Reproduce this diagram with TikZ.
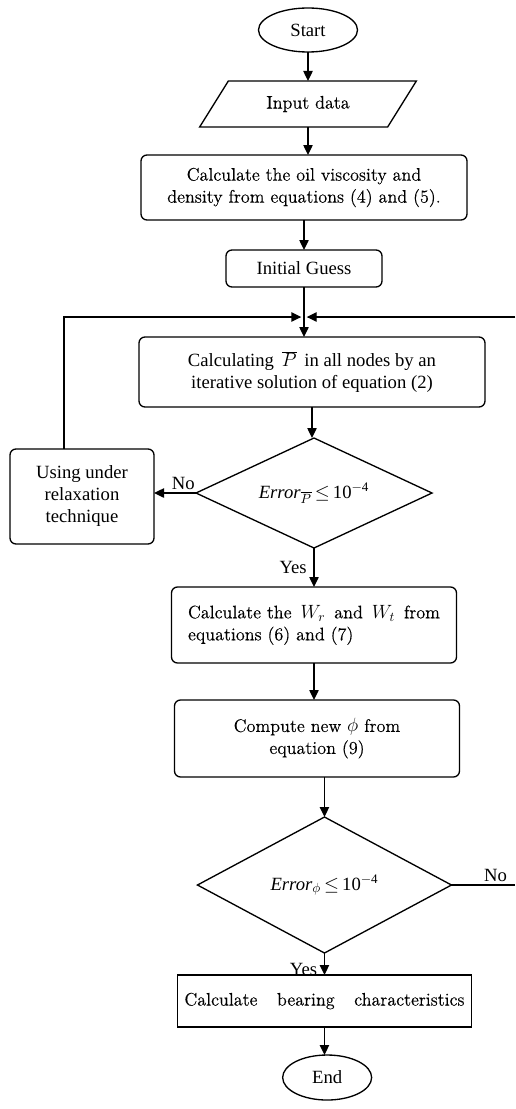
\documentclass[tikz,border=0pt]{standalone}
\usepackage{fontspec}
\setmainfont{Liberation Serif}
\newfontfamily\cambfont[FakeBold=0.3]{Latin Modern Roman}
\usepackage{tikz}
\usetikzlibrary{arrows.meta,positioning,shapes.geometric,calc}

\begin{document}
\begin{tikzpicture}[
  x=0.75pt,y=-0.75pt,
  font=\fontsize{14}{16.5}\selectfont,
  term/.style={draw,line width=1pt,ellipse,inner sep=0pt,outer sep=0pt},
  iobox/.style={draw,line width=1pt,trapezium,trapezium left angle=47,
                trapezium right angle=133,trapezium stretches=true,inner sep=0pt,outer sep=0pt},
  procbox/.style={draw,line width=1pt,rounded corners=4.5pt,align=center,inner sep=0pt,outer sep=0pt},
  plainbox/.style={draw,line width=1pt,align=center,inner sep=0pt,outer sep=0pt},
  test/.style={draw,line width=1pt,diamond,inner sep=0pt,outer sep=0pt},
  camb/.style={font=\cambfont\fontsize{13.6}{16.5}\selectfont},
  flow/.style={-{Triangle[length=7.5pt,width=7pt]},line width=1pt},
  link/.style={line width=1pt},
  lbl/.style={inner sep=2pt},
  yeslbl/.style={inner sep=5pt},
]
\useasboundingbox (0,0) rectangle (516,1109);

% main chain
\node[term,minimum width=74.25pt,minimum height=33pt] (start) at (308,30) {Start};
\node[iobox,camb,minimum width=163.5pt,minimum height=34.5pt,below=21.75pt of start] (input)
  {Input data};
\node[procbox,camb,minimum width=244.5pt,minimum height=48.75pt,below=21pt of input,xshift=-3pt] (visc)
  {Calculate the oil viscosity and\\ density from equations (4) and (5).};
\node[procbox,minimum width=117pt,minimum height=27.75pt,below=22.5pt of visc] (guess)
  {Initial Guess};
\node[procbox,minimum width=259.5pt,minimum height=52.5pt,below=37.5pt of guess,xshift=6pt] (solve)
  {Calculating \,$\overline{P}$\, in all nodes by an\\ iterative solution of equation (2)};
\node[test,aspect=2.15,minimum width=177pt,minimum height=82.5pt,below=23.25pt of solve,xshift=1.5pt] (chkP)
  {\textit{Error}$_{\overline{P}}$\,$\leq$\,10\textsuperscript{$-$4}};
\node[procbox,minimum width=108pt,minimum height=71.25pt,left=31.5pt of chkP,yshift=-2.6pt] (relax)
  {Using under\\ relaxation\\ technique};
\node[procbox,camb,align=left,minimum width=213.75pt,minimum height=57pt,below=29.25pt of chkP] (loads)
  {Calculate the \,$W_r$\, and \,$W_t$\, from\\ equations (6) and (7)};
\node[procbox,camb,minimum width=213.75pt,minimum height=57.75pt,below=27.75pt of loads,xshift=2.25pt] (newphi)
  {Compute new $\phi$ from\\ equation (9)};
\node[test,aspect=1.87,minimum width=190.5pt,minimum height=102pt,below=30pt of newphi,xshift=5.6pt] (chkphi)
  {\textit{Error}$_{\phi}$\,$\leq$\,10\textsuperscript{$-$4}};
\node[plainbox,camb,minimum width=220.5pt,minimum height=39pt,below=16.5pt of chkphi] (bearing)
  {\makebox[210pt][s]{Calculate bearing characteristics}};
\node[term,minimum width=66.75pt,minimum height=33.75pt,below=21pt of bearing,xshift=2pt] (stop)
  {End};

% connectors
\draw[flow] (start.south) -- (start.south |- input.north);
\draw[flow] (input.south) -- (input.south |- visc.north);
\draw[flow] (visc.south) -- (visc.south |- guess.north);
\draw[flow] (guess.south) -- (guess.south |- solve.north);
\coordinate[below=22.5pt of guess.south] (join);
\draw[flow] (solve.south) -- (solve.south |- chkP.north);
\draw[flow] (chkP.west) -- node[lbl,above,pos=0.3]{No} (chkP.west -| relax.east);
\draw[flow,shorten >=2pt] ([xshift=-13.5pt]relax.north) |- (join);
\draw[flow] (chkP.south) -- node[yeslbl,left]{Yes} (chkP.south |- loads.north);
\draw[flow] (loads.south) -- (loads.south |- newphi.north);
\draw[flow] (newphi.south -| chkphi.north) -- (chkphi.north);
\draw[flow] (chkphi.south) -- node[yeslbl,left,pos=0.75]{Yes} (chkphi.south |- bearing.north);
\draw[flow] (bearing.south) -- (bearing.south |- stop.north);

% loop back from the second test
\coordinate[right=48pt of chkphi.east] (noend);
\draw[link] (chkphi.east) -- node[lbl,above,pos=0.69]{No} (noend);
\draw[flow,shorten >=2pt] (noend |- join) -- (join);

\end{tikzpicture}
\end{document}
